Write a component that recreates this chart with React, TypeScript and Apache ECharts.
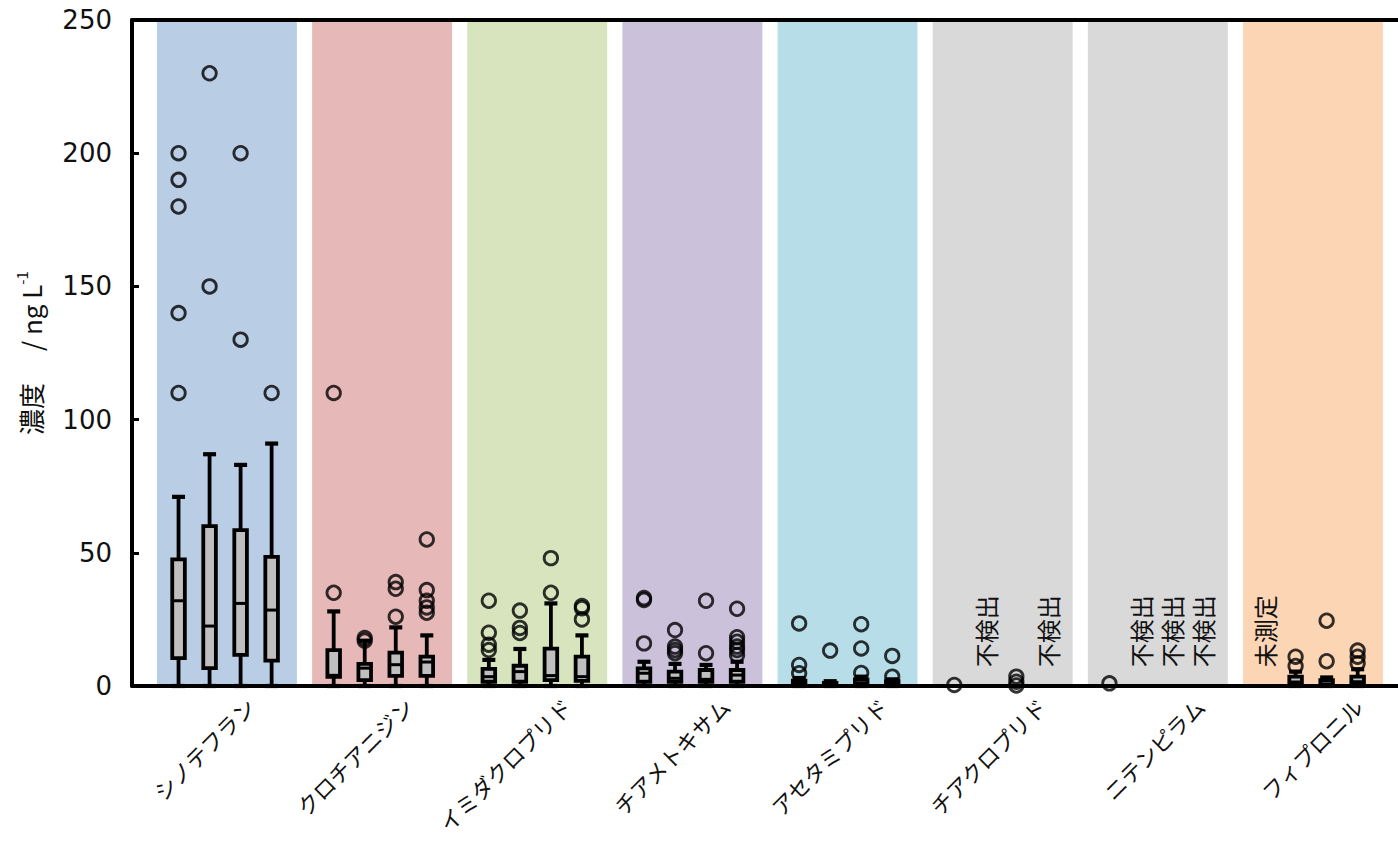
import React, { useEffect, useRef } from "react";
import * as echarts from "echarts";

// ---------------- data ----------------
const categories = [
  "シノテフラン",
  "クロチアニジン",
  "イミダクロプリド",
  "チアメトキサム",
  "アセタミプリド",
  "チアクロプリド",
  "ニテンピラム",
  "フィプロニル",
];

// box statistics per slot: [low, q1, median, q3, high]; null = no box
const dinotefuranBoxes = [
  [0, 10.5, 32, 47.5, 71],
  [0, 6.7, 22.5, 60, 87],
  [0, 11.7, 31, 58.5, 83],
  [0, 9.5, 28.5, 48.5, 91],
];
const clothianidinBoxes = [
  [0, 3.4, 4, 13.5, 28],
  [0, 2.2, 6.7, 8.3, 17],
  [0, 3.8, 8, 12.5, 22],
  [0, 3.8, 9, 11, 19],
];
const imidaclopridBoxes = [
  [0, 1.6, 3.5, 6.4, 9.8],
  [0, 1.6, 5.4, 7.6, 13.9],
  [0, 2.2, 3.9, 14, 31],
  [0, 1.9, 3.5, 11, 19],
];
const thiamethoxamBoxes = [
  [0, 1.6, 4.8, 6.6, 9.1],
  [0, 1.6, 2.9, 5.4, 8.3],
  [0, 1.6, 2.5, 6, 7.9],
  [0, 1.6, 4.1, 6, 9.1],
];
const acetamipridBoxes = [
  [0, 0.5, 1, 2, 3],
  [0, 0.2, 0.5, 1.2, 1.8],
  [0, 0.5, 1.2, 2.5, 3.5],
  [0, 0.3, 0.8, 1.8, 2.5],
];
const thiaclopridBoxes = [null, null, null, null];
const nitenpyramBoxes = [null, null, null, null];
const fipronilBoxes = [
  null,
  [0, 0.5, 1.5, 3.5, 5.4],
  [0, 0.3, 0.8, 2.2, 3.2],
  [0, 0.4, 1.6, 3.5, 6.3],
];

// outliers / individual points per slot
const dinotefuranOutliers = [[200, 190, 180, 140, 110], [230, 150], [200, 130], [110]];
const clothianidinOutliers = [[110, 35], [18, 17], [39, 36.5, 26], [55, 36, 32, 29.5, 27.5]];
const imidaclopridOutliers = [[32, 20, 15.5, 13.5], [28.3, 21.8, 19.9], [48, 35], [30, 29.2, 25]];
const thiamethoxamOutliers = [[33, 32.3, 16], [21, 14.8, 13.5, 12.3], [32, 12.3], [29, 18.3, 16.6, 14.8, 13.5, 11.6]];
const acetamipridOutliers = [[23.5, 7.9, 4.8], [13.3], [23.2, 14.1, 4.9], [11.3, 3.5]];
const thiaclopridOutliers = [[0.4], [], [3.5, 1.6, 0.2], []];
const nitenpyramOutliers = [[1], [], [], []];
const fipronilOutliers = [[], [11, 7.5], [24.5, 9.3], [13.3, 11, 8.5]];

// slot notes
const notDetectedSlots = [[], [], [], [], [], [1, 3], [1, 2, 3], []];
const notMeasuredSlots = [[], [], [], [], [], [], [], [0]];
const notDetectedText = "不検出";
const notMeasuredText = "未測定";

const yTitle = "濃度　 / ng L";
const yTitleSup = "-1";

// ---------------- styles / layout ----------------
const bandColors = ["#b9cde5", "#e6b8b7", "#d7e4bd", "#ccc1da", "#b7dee8", "#d9d9d9", "#d9d9d9", "#fcd5b5"];
const slotOffsets = [-0.312, -0.112, 0.088, 0.288];
const bandHalf = 0.451;
const Y_MAX = 250;
const NOTE_BASE = 7;
const LABEL_DX = 39;
const LABEL_DY = 16;
const JP_FONT = '"Noto Sans CJK JP", sans-serif';

const boxStats = [
  dinotefuranBoxes, clothianidinBoxes, imidaclopridBoxes, thiamethoxamBoxes,
  acetamipridBoxes, thiaclopridBoxes, nitenpyramBoxes, fipronilBoxes,
];
const outlierValues = [
  dinotefuranOutliers, clothianidinOutliers, imidaclopridOutliers, thiamethoxamOutliers,
  acetamipridOutliers, thiaclopridOutliers, nitenpyramOutliers, fipronilOutliers,
];

export default function App() {
  const ref = useRef<HTMLDivElement>(null);
  useEffect(() => {
    document.body.style.margin = "0";
    if (!ref.current) return;
    const chart = echarts.init(ref.current, undefined, { renderer: "svg" });

    const bandData = categories.map((_, k) => [k, 0]);
    const labelData = categories.map((name, k) => ({ value: [k + 0.5, 0], name }));
    const boxData: number[][] = [];
    boxStats.forEach((grp, k) =>
      grp.forEach((b, s) => {
        if (b) boxData.push([k + slotOffsets[s], ...b]);
      })
    );
    const outlierData: number[][] = [];
    outlierValues.forEach((grp, k) =>
      grp.forEach((vals, s) => vals.forEach((v) => outlierData.push([k + slotOffsets[s], v])))
    );
    const noteData: any[] = [];
    notDetectedSlots.forEach((slots, k) =>
      slots.forEach((s) => noteData.push({ value: [k + slotOffsets[s], NOTE_BASE], name: notDetectedText }))
    );
    notMeasuredSlots.forEach((slots, k) =>
      slots.forEach((s) => noteData.push({ value: [k + slotOffsets[s], NOTE_BASE], name: notMeasuredText }))
    );

    const xMin = -0.612;
    const xMax = 7.548;

    chart.setOption({
      animation: false,
      grid: { left: 132, right: 0, top: 20, bottom: 155 },
      xAxis: [
        {
          type: "value", min: xMin, max: xMax, position: "bottom", z: 10,
          axisLine: { show: true, onZero: false, lineStyle: { color: "#000", width: 4 } },
          axisTick: { show: false }, axisLabel: { show: false }, splitLine: { show: false },
        },
        {
          type: "value", min: xMin, max: xMax, position: "top", z: 10,
          axisLine: { show: true, onZero: false, lineStyle: { color: "#000", width: 4 } },
          axisTick: { show: false }, axisLabel: { show: false }, splitLine: { show: false },
        },
        {
          // category-label scale: 8 equal slots across the whole plot width
          type: "value", min: 0, max: categories.length, show: false,
        },
      ],
      yAxis: [
        {
          type: "value", min: 0, max: Y_MAX, interval: 50, z: 10,
          axisLine: { show: true, onZero: false, lineStyle: { color: "#000", width: 4 } },
          axisTick: { show: true, inside: true, length: 7, lineStyle: { color: "#000", width: 3 } },
          axisLabel: { fontSize: 26, color: "#111", fontFamily: '"DejaVu Sans", sans-serif', margin: 20 },
          splitLine: { show: false },
          name: `{a|${yTitle}}{b|${yTitleSup}}`,
          nameLocation: "middle",
          nameGap: 86,
          nameRotate: 90,
          nameTextStyle: {
            fontSize: 26,
            fontFamily: JP_FONT,
            color: "#111",
            rich: {
              a: { fontSize: 26, fontFamily: JP_FONT, color: "#111", lineHeight: 32 },
              b: { fontSize: 15, fontFamily: JP_FONT, color: "#111", verticalAlign: "top", lineHeight: 32 },
            },
          },
        },
      ],
      series: [
        {
          type: "custom",
          xAxisIndex: 0, yAxisIndex: 0,
          data: bandData,
          z: 1,
          silent: true,
          renderItem: (params: any, api: any) => {
            const k = api.value(0);
            const p0 = api.coord([k - bandHalf, Y_MAX]);
            const p1 = api.coord([k + bandHalf, 0]);
            return {
              type: "rect",
              shape: { x: p0[0], y: p0[1], width: p1[0] - p0[0], height: p1[1] - p0[1] },
              style: { fill: bandColors[params.dataIndex] },
            };
          },
        },
        {
          type: "custom",
          xAxisIndex: 0, yAxisIndex: 0,
          data: boxData,
          z: 3,
          encode: { x: 0, y: [1, 2, 3, 4, 5] },
          renderItem: (_params: any, api: any) => {
            const x = api.value(0);
            const pLow = api.coord([x, api.value(1)]);
            const pQ1 = api.coord([x, api.value(2)]);
            const pMed = api.coord([x, api.value(3)]);
            const pQ3 = api.coord([x, api.value(4)]);
            const pHigh = api.coord([x, api.value(5)]);
            const cx = pLow[0];
            const half = 6.3;
            const cap = 6.5;
            return {
              type: "group",
              children: [
                { type: "line", shape: { x1: cx, y1: pLow[1], x2: cx, y2: pHigh[1] }, style: { stroke: "#000", lineWidth: 3.8 } },
                { type: "line", shape: { x1: cx - cap, y1: pHigh[1], x2: cx + cap, y2: pHigh[1] }, style: { stroke: "#000", lineWidth: 4.2 } },
                { type: "line", shape: { x1: cx - cap, y1: pLow[1], x2: cx + cap, y2: pLow[1] }, style: { stroke: "#000", lineWidth: 4.2 } },
                {
                  type: "rect",
                  shape: { x: cx - half, y: pQ3[1], width: half * 2, height: pQ1[1] - pQ3[1] },
                  style: { fill: "#bfbfbf", stroke: "#000", lineWidth: 3.8 },
                },
                { type: "line", shape: { x1: cx - half, y1: pMed[1], x2: cx + half, y2: pMed[1] }, style: { stroke: "#000", lineWidth: 3 } },
              ],
            };
          },
        },
        {
          type: "scatter",
          xAxisIndex: 0, yAxisIndex: 0,
          data: outlierData,
          z: 4,
          symbol: "circle",
          symbolSize: 13.5,
          itemStyle: { color: "rgba(0,0,0,0)", borderColor: "#000", borderWidth: 2.8 },
        },
        {
          type: "custom",
          xAxisIndex: 0, yAxisIndex: 0,
          data: noteData,
          z: 5,
          renderItem: (params: any, api: any) => {
            const p = api.coord([api.value(0), api.value(1)]);
            return {
              type: "text",
              x: p[0],
              y: p[1],
              rotation: Math.PI / 2,
              style: {
                text: noteData[params.dataIndex].name,
                font: `24px ${JP_FONT}`,
                fill: "#111",
                align: "left",
                verticalAlign: "middle",
              },
            };
          },
        },
        {
          type: "custom",
          xAxisIndex: 2, yAxisIndex: 0,
          data: labelData,
          z: 5,
          clip: false,
          renderItem: (params: any, api: any) => {
            const p = api.coord([api.value(0), 0]);
            return {
              type: "text",
              x: p[0] + LABEL_DX,
              y: p[1] + LABEL_DY,
              rotation: Math.PI / 4,
              style: {
                text: labelData[params.dataIndex].name,
                font: `22px ${JP_FONT}`,
                fill: "#111",
                align: "right",
                verticalAlign: "middle",
              },
            };
          },
        },
      ],
    });
    return () => chart.dispose();
  }, []);
  return <div ref={ref} style={{ width: 1398, height: 841 }} />;
}
